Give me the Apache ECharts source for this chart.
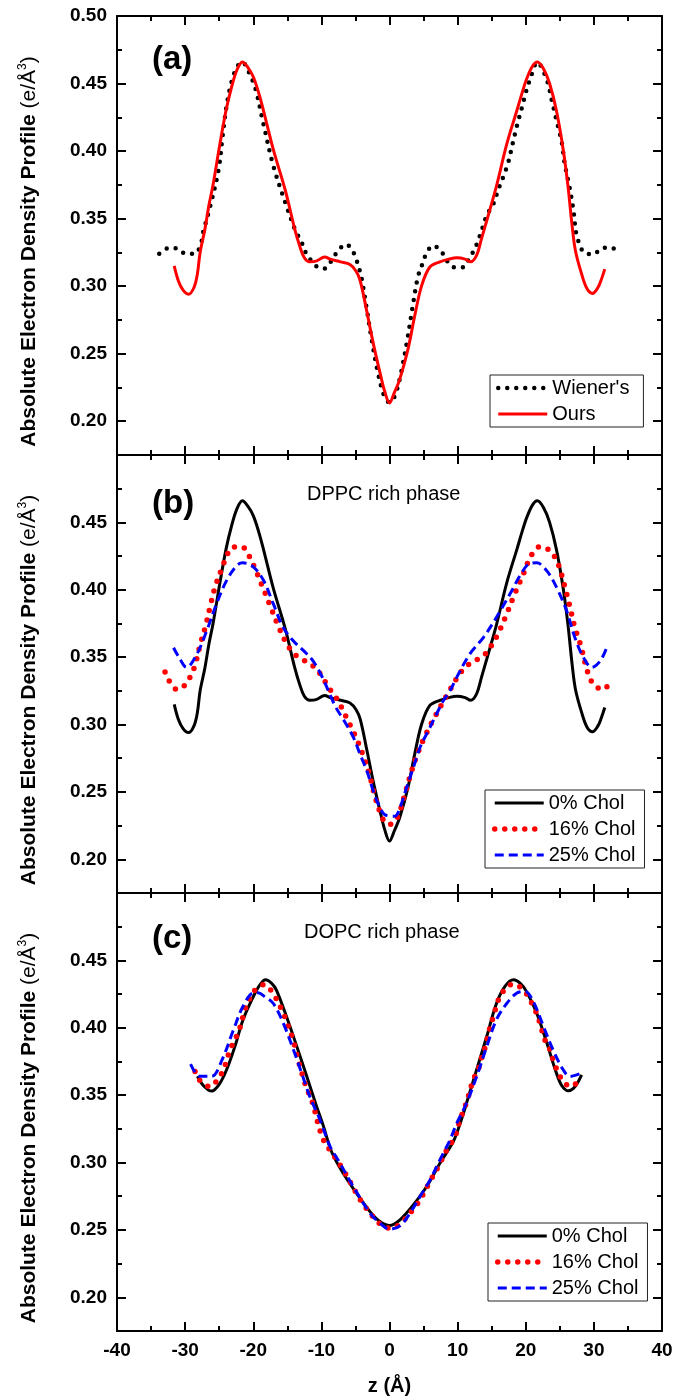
<!DOCTYPE html>
<html>
<head>
<meta charset="utf-8">
<script src="https://cdn.jsdelivr.net/npm/echarts@6/dist/echarts.min.js"></script>
<style>html,body{margin:0;padding:0;background:#fff}#c{width:677px;height:1400px}</style>
</head>
<body>
<div id="c"></div>
<script>
// ---------- data (z in Å, density in e/Å^3) ----------
const wienerA = [[-33.8,0.324],[-32.5,0.328],[-31.2,0.328],[-29.9,0.324],[-28.6,0.324],[-27.7,0.331],[-27.4,0.339],[-26.4,0.3575],[-25.1,0.386],[-24.5,0.411],[-23.9,0.434],[-23.2,0.451],[-22.4,0.462],[-21.6,0.466],[-20.8,0.460],[-19.7,0.4465],[-18.5,0.420],[-17.05,0.389],[-15.1,0.359],[-13.7,0.340],[-13.0,0.334],[-12.5,0.327],[-11.8,0.321],[-10.8,0.315],[-9.6,0.313],[-8.5,0.319],[-7.6,0.326],[-6.4,0.331],[-5.3,0.325],[-4.4,0.312],[-4.1,0.306],[-3.4,0.285],[-2.6,0.260],[-1.7,0.236],[-0.8,0.219],[0,0.214],[0.8,0.219],[1.7,0.236],[2.6,0.260],[3.4,0.285],[4.08,0.305],[4.48,0.312],[4.96,0.318],[5.46,0.325],[6.43,0.330],[7.56,0.326],[8.4,0.319],[9.5,0.314],[10.83,0.314],[11.7,0.3205],[12.45,0.327],[13.03,0.334],[13.5,0.341],[14.3,0.3526],[15.25,0.361],[16.0,0.372],[16.7,0.381],[17.45,0.392],[18.1,0.406],[18.7,0.4185],[19.4,0.4316],[20.1,0.445],[20.6,0.4526],[21.7,0.4657],[23.1,0.4526],[23.8,0.438],[24.5,0.423],[25.3,0.406],[25.7,0.391],[26.4,0.374],[27.0,0.356],[27.4,0.339],[27.86,0.3316],[28.6,0.3247],[29.9,0.3237],[31.15,0.328],[32.47,0.3286],[33.84,0.3242]];
const oursA = [[-31.6,0.315],[-31.0,0.304],[-30.3,0.297],[-29.5,0.294],[-28.7,0.299],[-28.2,0.309],[-27.8,0.325],[-27.1,0.342],[-26.5,0.360],[-25.9,0.375],[-24.9,0.405],[-24.0,0.430],[-23.2,0.447],[-22.4,0.460],[-21.6,0.466],[-20.8,0.462],[-20.0,0.455],[-19.2,0.443],[-18.5,0.430],[-17.05,0.401],[-15.3,0.371],[-13.9,0.342],[-13.2,0.330],[-12.5,0.321],[-11.7,0.318],[-10.8,0.3185],[-9.5,0.3215],[-8.7,0.320],[-7.2,0.318],[-5.8,0.3160],[-4.9,0.311],[-4.3,0.304],[-3.4,0.283],[-2.4,0.258],[-1.4,0.236],[-0.7,0.222],[0,0.2135],[0.7,0.221],[1.5,0.231],[2.7,0.253],[3.7,0.278],[4.7,0.300],[5.9,0.314],[7.4,0.318],[8.7,0.320],[9.9,0.321],[11.1,0.320],[11.9,0.318],[12.8,0.323],[13.5,0.335],[14.3,0.349],[15.7,0.374],[17.2,0.405],[18.7,0.430],[19.4,0.442],[20.1,0.453],[21.0,0.463],[21.7,0.466],[22.6,0.461],[23.5,0.450],[24.5,0.430],[25.5,0.401],[26.2,0.374],[26.8,0.345],[27.3,0.326],[28.2,0.309],[29.0,0.298],[29.8,0.2946],[30.6,0.299],[31.1,0.305],[31.6,0.3126]];
const dppc0 = oursA;
const dppc16 = [[-32.95,0.339],[-32.3,0.332],[-31.15,0.326],[-29.9,0.330],[-29.1,0.337],[-28.55,0.344],[-27.8,0.359],[-27.0,0.373],[-26.35,0.387],[-25.6,0.402],[-24.6,0.416],[-24.05,0.423],[-23.2,0.431],[-21.7,0.432],[-20.6,0.425],[-19.6,0.414],[-18.7,0.403],[-17.5,0.388],[-16.4,0.374],[-15.1,0.360],[-13.9,0.352],[-12.65,0.348],[-11.0,0.3425],[-9.95,0.336],[-9.0,0.328],[-7.6,0.318],[-6.5,0.307],[-5.06,0.292],[-3.93,0.278],[-2.96,0.263],[-2.23,0.2485],[-1.4,0.235],[-0.66,0.2274],[0,0.226],[0.8,0.2281],[1.54,0.236],[2.27,0.2485],[3.1,0.263],[4.08,0.278],[5.36,0.293],[6.8,0.307],[8.4,0.3215],[10.1,0.336],[11.2,0.343],[12.8,0.348],[14.2,0.353],[15.2,0.3606],[16.0,0.368],[17.2,0.382],[18.3,0.396],[19.55,0.4105],[20.8,0.4254],[22.1,0.432],[23.4,0.4296],[24.4,0.423],[25.0,0.4155],[25.8,0.401],[26.5,0.387],[27.2,0.372],[28.05,0.359],[28.8,0.344],[29.3,0.336],[30.06,0.329],[31.4,0.326],[32.5,0.333]];
const dppc25 = [[-31.7,0.357],[-30.8,0.349],[-29.8,0.3425],[-28.3,0.352],[-26.8,0.370],[-25.4,0.3895],[-23.9,0.407],[-22.4,0.418],[-21.55,0.420],[-20.0,0.417],[-18.5,0.407],[-17.05,0.3895],[-15.6,0.372],[-14.1,0.362],[-12.65,0.355],[-11.2,0.347],[-9.95,0.336],[-7.9,0.313],[-6.8,0.304],[-5.3,0.2905],[-4.33,0.278],[-3.35,0.266],[-2.4,0.251],[-1.64,0.241],[-0.66,0.233],[0.8,0.232],[1.54,0.2385],[2.52,0.2534],[3.5,0.268],[4.48,0.283],[5.7,0.2955],[6.93,0.308],[7.9,0.3177],[8.88,0.325],[9.86,0.335],[11.8,0.3524],[13.8,0.3647],[15.7,0.3796],[17.7,0.397],[19.15,0.4105],[20.4,0.419],[21.6,0.420],[23.1,0.414],[24.5,0.402],[26.0,0.3845],[27.2,0.3647],[28.45,0.350],[29.7,0.3425],[30.9,0.347],[31.8,0.356]];
const dopc0 = [[-28.2,0.364],[-27.3,0.357],[-26.1,0.353],[-25.0,0.358],[-23.9,0.369],[-22.7,0.386],[-21.5,0.406],[-20.0,0.423],[-19.0,0.432],[-18.2,0.4356],[-17.3,0.433],[-16.6,0.428],[-15.1,0.408],[-13.6,0.386],[-12.15,0.364],[-10.7,0.3416],[-9.7,0.327],[-8.5,0.308],[-6.8,0.292],[-4.8,0.277],[-2.86,0.2636],[-1.4,0.2562],[0,0.2532],[1.54,0.2575],[3.5,0.2686],[5.46,0.2822],[7.4,0.2995],[9.4,0.316],[10.3,0.328],[11.3,0.344],[12.8,0.369],[14.27,0.3935],[15.7,0.418],[16.95,0.4307],[18.2,0.4356],[19.2,0.433],[20.1,0.427],[21.6,0.411],[23.1,0.3886],[24.5,0.3664],[25.3,0.357],[26.25,0.3532],[27.0,0.355],[27.7,0.360],[28.2,0.365]];
const dopc16 = [[-28.55,0.3676],[-27.7,0.360],[-26.35,0.3564],[-25.1,0.3626],[-24.3,0.370],[-23.4,0.3837],[-22.7,0.391],[-22.05,0.3985],[-21.2,0.4134],[-20.6,0.4208],[-19.7,0.4282],[-18.4,0.432],[-17.15,0.4258],[-15.7,0.412],[-14.85,0.401],[-14.1,0.390],[-13.5,0.378],[-12.9,0.367],[-12.15,0.355],[-11.4,0.346],[-9.8,0.318],[-8.1,0.3045],[-6.8,0.2946],[-4.58,0.2748],[-3.6,0.2673],[-1.4,0.2545],[0.07,0.2513],[1.54,0.2545],[3.9,0.268],[4.9,0.276],[5.95,0.286],[7.16,0.297],[8.4,0.3094],[9.6,0.319],[10.35,0.3317],[11.1,0.3416],[11.57,0.349],[12.3,0.3614],[13.0,0.3688],[13.5,0.3775],[14.0,0.385],[14.65,0.3985],[15.25,0.4084],[16.0,0.4208],[16.7,0.427],[18.1,0.4324],[19.65,0.4282],[20.6,0.4208],[21.36,0.4134],[22.0,0.4047],[22.8,0.3911],[23.56,0.3837],[24.0,0.3762],[24.8,0.3664],[25.5,0.3601],[26.6,0.3564],[27.96,0.3614]];
const dopc25 = [[-29.2,0.373],[-27.8,0.364],[-26.1,0.364],[-24.6,0.376],[-22.9,0.3985],[-21.5,0.416],[-20.0,0.4258],[-19.3,0.426],[-18.3,0.423],[-17.05,0.418],[-15.6,0.4035],[-14.1,0.3837],[-12.9,0.3664],[-11.7,0.349],[-10.2,0.3317],[-8.73,0.312],[-7.27,0.2995],[-5.3,0.282],[-2.86,0.2624],[-1.4,0.255],[0,0.2506],[1.54,0.253],[3.0,0.2624],[4.48,0.2748],[5.95,0.2871],[7.4,0.302],[8.88,0.3168],[9.86,0.329],[11.3,0.344],[12.8,0.3639],[14.27,0.386],[15.7,0.406],[17.2,0.418],[18.7,0.4258],[19.9,0.427],[21.1,0.4195],[22.6,0.401],[24.0,0.3837],[25.5,0.3688],[26.5,0.3639],[28.2,0.3664]];

const xTicks = {min: -40, max: 40, interval: 10};
const yMajor = [0.20, 0.25, 0.30, 0.35, 0.40, 0.45, 0.50];
const yMinor = [0.225, 0.275, 0.325, 0.375, 0.425, 0.475];
const yLabelsA = [0.20, 0.25, 0.30, 0.35, 0.40, 0.45, 0.50];
const yLabelsBC = [0.20, 0.25, 0.30, 0.35, 0.40, 0.45];
const yRange = {min: 0.175, max: 0.50};

// ---------- layout ----------
const FONT = 'Liberation Sans';
const grids = [
  {left: 117, width: 545, top: 16, height: 439},
  {left: 117, width: 545, top: 455, height: 438},
  {left: 117, width: 545, top: 893, height: 438}
];
const axisLineStyle = {color: '#000', width: 2};
const yName = '{b|Absolute Electron Density Profile }{r|(e/Å}{s|3}{r|)}';
const yNameStyle = {
  color: '#000', padding: [0, 32, 0, 0],
  rich: {
    b: {fontFamily: FONT, fontWeight: 'bold', fontSize: 21, color: '#000', lineHeight: 24},
    r: {fontFamily: FONT, fontWeight: 'normal', fontSize: 21, color: '#000', lineHeight: 24},
    s: {fontFamily: FONT, fontWeight: 'normal', fontSize: 12, color: '#000', verticalAlign: 'top', lineHeight: 24}
  }
};

const xAxes = [], yAxes = [];
grids.forEach((g, i) => {
  ['bottom', 'top'].forEach(pos => {
    const isLabel = (i === 2 && pos === 'bottom');
    xAxes.push({
      gridIndex: i, type: 'value', position: pos,
      min: xTicks.min, max: xTicks.max, interval: xTicks.interval,
      axisLine: {show: true, onZero: false, lineStyle: axisLineStyle},
      axisTick: {show: true, inside: true, length: 9, lineStyle: {color: '#000', width: 2}},
      minorTick: {show: true, splitNumber: 2, length: 5, lineStyle: {color: '#000', width: 2}},
      splitLine: {show: false},
      axisLabel: {show: isLabel, margin: 10, color: '#000', fontFamily: FONT, fontWeight: 'bold', fontSize: 19},
      name: isLabel ? 'z (Å)' : '',
      nameLocation: 'middle', nameGap: 45,
      nameTextStyle: {color: '#000', fontFamily: FONT, fontWeight: 'bold', fontSize: 20}
    });
  });
  ['left', 'right'].forEach(pos => {
    const labels = i === 0 ? yLabelsA : yLabelsBC;
    yAxes.push({
      gridIndex: i, type: 'value', position: pos,
      min: yRange.min, max: yRange.max, interval: 0.025,
      axisLine: {show: true, onZero: false, lineStyle: axisLineStyle},
      axisTick: {show: true, inside: true, length: 9, customValues: yMajor, lineStyle: {color: '#000', width: 2}},
      splitLine: {show: false},
      axisLabel: {show: pos === 'left', customValues: labels, margin: 10, color: '#000',
        fontFamily: FONT, fontWeight: 'bold', fontSize: 19, formatter: v => v.toFixed(2)},
      name: pos === 'left' ? yName : '',
      nameLocation: 'middle', nameGap: 76,
      nameTextStyle: yNameStyle
    });
    yAxes.push({
      gridIndex: i, type: 'value', position: pos,
      min: yRange.min, max: yRange.max, interval: 0.025,
      axisLine: {show: false, onZero: false},
      axisTick: {show: true, inside: true, length: 5, customValues: yMinor, lineStyle: {color: '#000', width: 2}},
      splitLine: {show: false},
      axisLabel: {show: false}
    });
  });
});

const solidRed = {color: '#ff0000', width: 3, type: 'solid'};
const solidBlack = {color: '#000000', width: 3, type: 'solid'};
const dotBlack = {color: '#000000', width: 4.5, type: [0, 9], cap: 'round'};
const dotRed = {color: '#ff0000', width: 5.5, type: [0, 10], cap: 'round'};
const dashBlue = {color: '#0000ff', width: 3, type: [9, 5]};

function line(name, data, gi, style) {
  return {
    name, type: 'line', data, xAxisIndex: gi * 2, yAxisIndex: gi * 4,
    showSymbol: false, symbol: 'none', smooth: 0.35, animation: false,
    itemStyle: {color: style.color},
    lineStyle: style, z: 3
  };
}

const series = [
  line("Wiener's", wienerA, 0, dotBlack),
  line('Ours', oursA, 0, solidRed),
  line('0% Chol', dppc0, 1, solidBlack),
  line('16% Chol', dppc16, 1, dotRed),
  line('25% Chol', dppc25, 1, dashBlue),
  line('0% Chol', dopc0, 2, solidBlack),
  line('16% Chol', dopc16, 2, dotRed),
  line('25% Chol', dopc25, 2, dashBlue)
];

function legend(items, left, top, padding) {
  return {
    data: items.map(([name, st]) => ({name, lineStyle: st})),
    orient: 'vertical', left, top, padding,
    itemWidth: 49, itemHeight: 14, itemGap: 6,
    itemStyle: {opacity: 0, borderWidth: 0},
    borderColor: '#222', borderWidth: 1, borderRadius: 0,
    selectedMode: false,
    textStyle: {fontFamily: FONT, fontSize: 20, color: '#000'}
  };
}

function label(text, left, top, size, weight) {
  return {text, left, top, padding: 0,
    textStyle: {fontFamily: FONT, fontSize: size, fontWeight: weight, color: '#000'}};
}

const chart = echarts.init(document.getElementById('c'), null, {renderer: 'canvas'});
chart.setOption({
  backgroundColor: '#fff',
  animation: false,
  grid: grids,
  xAxis: xAxes,
  yAxis: yAxes,
  series,
  legend: [
    legend([["Wiener's", dotBlack], ['Ours', solidRed]], 490, 375, [3, 14, 3, 6]),
    legend([['0% Chol', solidBlack], ['16% Chol', dotRed], ['25% Chol', dashBlue]], 485, 790, [3, 9, 3, 7]),
    legend([['0% Chol', solidBlack], ['16% Chol', dotRed], ['25% Chol', dashBlue]], 488, 1223, [3, 9, 3, 7])
  ],
  title: [
    label('(a)', 152, 43, 33, 'bold'),
    label('(b)', 152, 487, 33, 'bold'),
    label('(c)', 152, 922, 33, 'bold'),
    label('DPPC rich phase', 307, 484, 20, 'normal'),
    label('DOPC rich phase', 304, 922, 20, 'normal')
  ]
});
</script>
</body>
</html>
